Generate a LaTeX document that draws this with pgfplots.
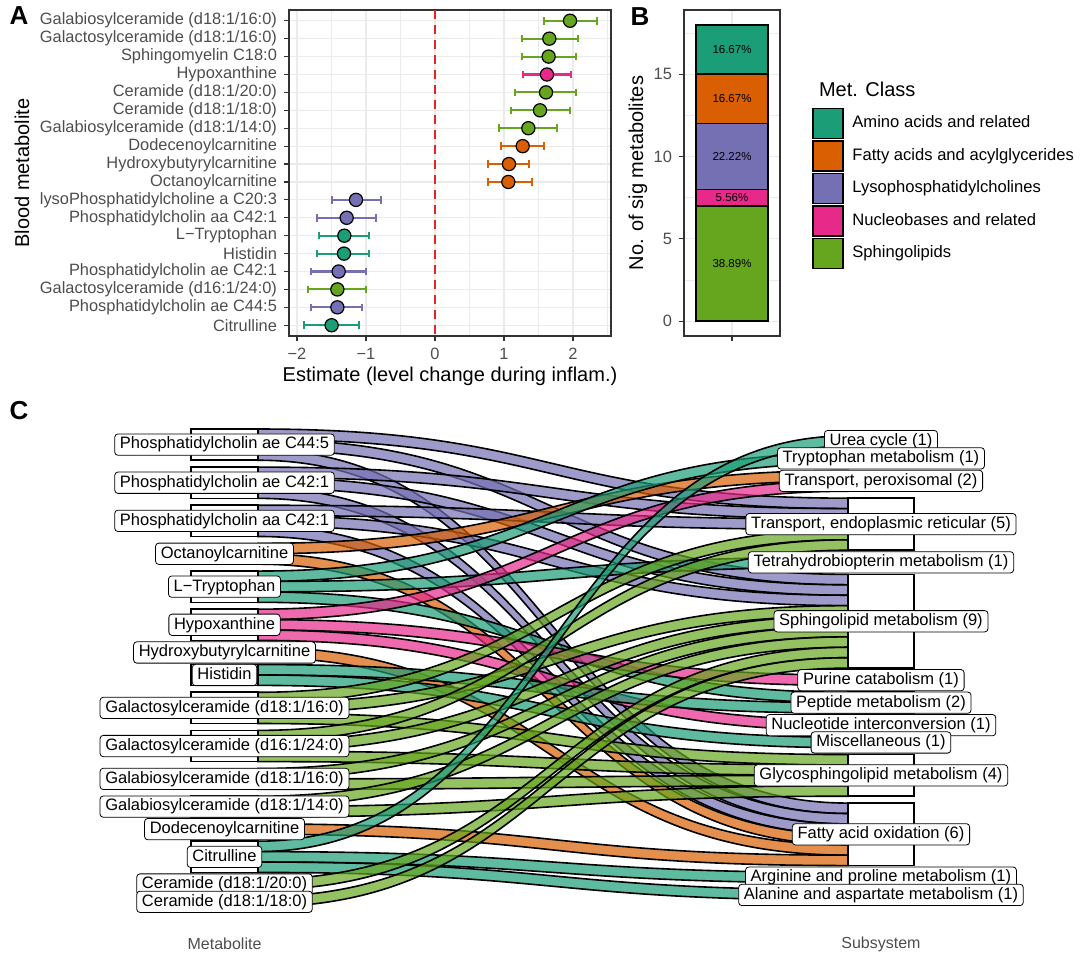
\documentclass[border=0pt]{standalone}
\usepackage{fontspec}
\setmainfont{Liberation Sans}
\usepackage{pgfplots}
\usepackage{pgfplotstable}
\pgfplotsset{compat=1.18}

\definecolor{amino}{RGB}{27,158,119}
\definecolor{fatty}{RGB}{217,95,2}
\definecolor{lyso}{RGB}{117,112,179}
\definecolor{nucleo}{RGB}{231,41,138}
\definecolor{sphingo}{RGB}{102,166,30}
\definecolor{grid92}{RGB}{235,235,235}
\definecolor{grey20}{RGB}{51,51,51}
\definecolor{grey30}{RGB}{77,77,77}
\definecolor{zeroline}{RGB}{226,38,38}

% plot handler: first point, then (control, control, end) triples -> cubic Bezier
\makeatletter
\def\pgfplothandlerbezier{%
  \def\pgf@plotstreamstart{%
    \global\let\pgf@plotstreampoint=\bz@first
    \global\let\pgf@plotstreamspecial=\pgfutil@gobble
    \global\let\pgf@plotstreamnewdataset=\relax
    \global\let\pgf@plotstreamend=\relax}}
\def\bz@first#1{\pgfpathmoveto{#1}\global\let\pgf@plotstreampoint=\bz@one}
\def\bz@one#1{\pgf@process{#1}\xdef\bz@ax{\the\pgf@x}\xdef\bz@ay{\the\pgf@y}\global\let\pgf@plotstreampoint=\bz@two}
\def\bz@two#1{\pgf@process{#1}\xdef\bz@bx{\the\pgf@x}\xdef\bz@by{\the\pgf@y}\global\let\pgf@plotstreampoint=\bz@three}
\def\bz@three#1{\pgfpathcurveto{\pgfqpoint{\bz@ax}{\bz@ay}}{\pgfqpoint{\bz@bx}{\bz@by}}{#1}\global\let\pgf@plotstreampoint=\bz@one}
\tikzset{bezier/.code={\let\tikz@plot@handler=\pgfplothandlerbezier}}
\makeatother

\newcommand\tickfont{\fontsize{8.2}{9}\selectfont}
\newcommand\titlefont{\fontsize{10}{12}\selectfont}

% ---- panel A: estimates (row est lo hi)
\pgfplotstableread{
row est lo hi
1 1.957 1.585 2.344
2 1.657 1.256 2.077
3 1.647 1.256 2.039
5 1.609 1.164 2.043
6 1.522 1.097 1.957
7 1.353 0.932 1.763
16 -1.415 -1.845 -1.000
}\Asph
\pgfplotstableread{
row est lo hi
4 1.623 1.275 1.966
}\Anuc
\pgfplotstableread{
row est lo hi
8 1.271 0.957 1.584
9 1.072 0.773 1.367
10 1.063 0.768 1.401
}\Afat
\pgfplotstableread{
row est lo hi
11 -1.145 -1.498 -0.783
12 -1.280 -1.715 -0.860
15 -1.396 -1.792 -1.005
17 -1.415 -1.792 -1.058
}\Alyso
\pgfplotstableread{
row est lo hi
13 -1.314 -1.676 -0.961
14 -1.319 -1.715 -0.952
18 -1.498 -1.903 -1.101
}\Aami

% ---- panel C: flows (slot centre on left, slot centre on right, class)
\pgfplotstableread{
yl yr col
0.5 7.14 lyso
1.5 14.46 lyso
2.5 36.42 lyso
4.16 8.14 lyso
5.16 15.46 lyso
6.16 37.42 lyso
7.82 9.14 lyso
8.82 16.46 lyso
9.82 38.42 lyso
11.48 4.48 fatty
12.48 39.42 fatty
14.14 2.82 amino
15.14 12.80 amino
16.14 25.78 amino
17.80 5.48 nucleo
18.80 24.12 nucleo
19.80 28.44 nucleo
21.46 40.42 fatty
23.12 26.78 amino
24.12 30.10 amino
25.78 10.14 sphingo
26.78 17.46 sphingo
27.78 31.76 sphingo
29.44 11.14 sphingo
30.44 18.46 sphingo
31.44 32.76 sphingo
33.10 19.46 sphingo
34.10 33.76 sphingo
35.76 20.46 sphingo
36.76 34.76 sphingo
38.42 41.42 fatty
40.08 1.16 amino
41.08 43.08 amino
42.08 44.74 amino
43.74 21.46 sphingo
45.40 22.46 sphingo
}\flows

% strata boxes
\pgfplotstableread{
x0 x1 y0 y1
-0.1136 0 0 3
-0.1136 0 3.66 6.66
-0.1136 0 7.32 10.32
-0.1136 0 10.98 12.98
-0.1136 0 13.64 16.64
-0.1136 0 17.30 20.30
-0.1136 0 20.96 21.96
-0.1136 0 22.62 24.62
-0.1136 0 25.28 28.28
-0.1136 0 28.94 31.94
-0.1136 0 32.60 34.60
-0.1136 0 35.26 37.26
-0.1136 0 37.92 38.92
-0.1136 0 39.58 42.58
-0.1136 0 43.24 44.24
-0.1136 0 44.90 45.90
1 1.1119 0.66 1.66
1 1.1119 2.32 3.32
1 1.1119 3.98 5.98
1 1.1119 6.64 11.64
1 1.1119 12.30 13.30
1 1.1119 13.96 22.96
1 1.1119 23.62 24.62
1 1.1119 25.28 27.28
1 1.1119 27.94 28.94
1 1.1119 29.60 30.60
1 1.1119 31.26 35.26
1 1.1119 35.92 41.92
1 1.1119 42.58 43.58
1 1.1119 44.24 45.24
}\strata

\pgfplotsset{
  ggbw/.style={
    scale only axis,
    axis line style={grey20, line width=0.75pt},
    tick align=outside, tick pos=left,
    major tick length=2.5pt,
    tick style={grey20, line width=0.6pt},
    minor tick length=0pt,
    tick label style={font=\tickfont, text=grey30},
    /pgf/number format/assume math mode=true,
    label style={font=\titlefont},
    major grid style={grid92, line width=0.6pt},
    minor grid style={grid92, line width=0.3pt},
  },
  ebar/.style={only marks, mark=none, error bars/.cd, x dir=both, x explicit,
    error mark=|,
    error bar style={#1, line width=1.05pt},
    error mark options={#1, line width=1.05pt, mark size=1.9pt}},
  dot/.style={only marks, mark=*, mark size=3.3pt,
    mark options={fill=#1, draw=black, line width=0.6pt}},
}
\tikzset{lab/.style={draw=black, line width=0.4pt, fill=white, rounded corners=1.6pt,
  inner xsep=2.6pt, inner ysep=1.4pt, text height=6.1pt, text depth=1.75pt,
  font=\fontsize{8.25}{9}\selectfont},
  pct/.style={font=\fontsize{5.75}{6}\selectfont}}

\begin{document}
\begin{tikzpicture}
\useasboundingbox (0,0) rectangle (540pt,-481.5pt);

% ================= A
\begin{axis}[ggbw,
  at={(144.5pt,-5pt)}, anchor=north west, width=161pt, height=163pt,
  xmin=-2.116, xmax=2.551, ymin=0.4, ymax=18.6, y dir=reverse,
  xtick={-2,-1,0,1,2}, xticklabels={−2,−1,0,1,2},
  minor xtick={-1.5,-0.5,0.5,1.5,2.5},
  ytick={1,...,18},
  yticklabels={Galabiosylceramide (d18:1/16:0),Galactosylceramide (d18:1/16:0),Sphingomyelin C18:0,Hypoxanthine,Ceramide (d18:1/20:0),Ceramide (d18:1/18:0),Galabiosylceramide (d18:1/14:0),Dodecenoylcarnitine,Hydroxybutyrylcarnitine,Octanoylcarnitine,lysoPhosphatidylcholine a C20:3,Phosphatidylcholin aa C42:1,L−Tryptophan,Histidin,Phosphatidylcholin ae C42:1,Galactosylceramide (d16:1/24:0),Phosphatidylcholin ae C44:5,Citrulline},
  xmajorgrids, xminorgrids, ymajorgrids,
  xlabel={Estimate (level change during inflam.)},
  ylabel={Blood metabolite},
  xlabel style={at={(axis description cs:0.5,-0.1227)}, anchor=center},
  ylabel style={at={(axis description cs:-0.829,0.5)}, anchor=center},
]
\addplot[zeroline, line width=0.9pt, dash pattern=on 4.5pt off 3pt] coordinates {(0,0.4) (0,18.6)};
\addplot[ebar=sphingo] table[x=est, y=row, x error plus expr=\thisrow{hi}-\thisrow{est}, x error minus expr=\thisrow{est}-\thisrow{lo}] {\Asph};
\addplot[ebar=nucleo] table[x=est, y=row, x error plus expr=\thisrow{hi}-\thisrow{est}, x error minus expr=\thisrow{est}-\thisrow{lo}] {\Anuc};
\addplot[ebar=fatty] table[x=est, y=row, x error plus expr=\thisrow{hi}-\thisrow{est}, x error minus expr=\thisrow{est}-\thisrow{lo}] {\Afat};
\addplot[ebar=lyso] table[x=est, y=row, x error plus expr=\thisrow{hi}-\thisrow{est}, x error minus expr=\thisrow{est}-\thisrow{lo}] {\Alyso};
\addplot[ebar=amino] table[x=est, y=row, x error plus expr=\thisrow{hi}-\thisrow{est}, x error minus expr=\thisrow{est}-\thisrow{lo}] {\Aami};
\addplot[dot=sphingo] table[x=est, y=row] {\Asph};
\addplot[dot=nucleo] table[x=est, y=row] {\Anuc};
\addplot[dot=fatty] table[x=est, y=row] {\Afat};
\addplot[dot=lyso] table[x=est, y=row] {\Alyso};
\addplot[dot=amino] table[x=est, y=row] {\Aami};
\end{axis}

% ================= B
\begin{axis}[ggbw,
  at={(342pt,-5pt)}, anchor=north west, width=48pt, height=163pt,
  ybar stacked, bar width=36pt,
  xmin=0.4, xmax=1.6, ymin=-0.9, ymax=18.9,
  xtick={1}, xticklabels={\strut},
  ytick={0,5,10,15}, minor ytick={2.5,7.5,12.5,17.5},
  xmajorgrids, ymajorgrids, yminorgrids,
  ylabel={No. of sig metabolites},
  ylabel style={at={(axis description cs:-0.479,0.5)}, anchor=center},
  legend image code/.code={\draw[#1, line width=0.8pt] (0pt,-7.5pt) rectangle (15pt,7.5pt);},
  reverse legend,
  legend style={at={(axis description cs:1.3333,0.7017)}, anchor=north west,
    draw=none, fill=none, inner sep=0pt, row sep=0.45pt,
    /tikz/column sep=4pt,
    nodes={inner sep=0.2pt},
    font=\fontsize{8.3}{10}\selectfont},
  legend cell align=left,
  extra description/.code={
    \node[pct] at (axis cs:1,3.5) {38.89\%};
    \node[pct] at (axis cs:1,7.5) {5.56\%};
    \node[pct] at (axis cs:1,10) {22.22\%};
    \node[pct] at (axis cs:1,13.5) {16.67\%};
    \node[pct] at (axis cs:1,16.5) {16.67\%};
  },
]
\addplot[fill=sphingo, draw=black, line width=0.8pt] coordinates {(1,7)};
\addplot[fill=nucleo, draw=black, line width=0.8pt] coordinates {(1,1)};
\addplot[fill=lyso, draw=black, line width=0.8pt] coordinates {(1,4)};
\addplot[fill=fatty, draw=black, line width=0.8pt] coordinates {(1,3)};
\addplot[fill=amino, draw=black, line width=0.8pt] coordinates {(1,3)};
\legend{Sphingolipids,Nucleobases and related,Lysophosphatidylcholines,Fatty acids and acylglycerides,Amino acids and related}
\end{axis}
\node[anchor=west, font=\titlefont] at (406pt,-44.5pt) {Met. Class};

% ================= C
\begin{axis}[
  at={(95.5pt,-214.5pt)}, anchor=north west, scale only axis, width=361.5pt, height=239pt,
  xmin=-0.1136, xmax=1.1119, ymin=0, ymax=45.9, y dir=reverse, clip=false,
  axis line style={draw=none}, tick style={draw=none}, major tick length=0pt,
  ytick=\empty, xtick={-0.0568,1.0559}, xticklabels={Metabolite,Subsystem},
  xticklabel style={font=\fontsize{8}{9}\selectfont, text=grey30, anchor=center, yshift=-18.5pt},
]
\pgfplotstablegetrowsof{\flows}
\pgfmathtruncatemacro\nflows{\pgfplotsretval-1}
\pgfplotsforeachungrouped \i in {0,...,\nflows}{%
  \pgfplotstablegetelem{\i}{yl}\of\flows \let\fa\pgfplotsretval
  \pgfplotstablegetelem{\i}{yr}\of\flows \let\fb\pgfplotsretval
  \pgfplotstablegetelem{\i}{col}\of\flows \let\fc\pgfplotsretval
  \pgfmathsetmacro\fLt{\fa-0.5}\pgfmathsetmacro\fLb{\fa+0.5}%
  \pgfmathsetmacro\fRt{\fb-0.5}\pgfmathsetmacro\fRb{\fb+0.5}%
  \edef\doflow{\noexpand\addplot[bezier, fill=\fc, fill opacity=0.7, draw=black, line width=0.8pt]
    coordinates {(0,\fLt) (0.5,\fLt) (0.5,\fRt) (1,\fRt) (1,\fRt) (1,\fRb) (1,\fRb) (0.5,\fRb) (0.5,\fLb) (0,\fLb)} -- cycle;}%
  \doflow
}
\pgfplotstablegetrowsof{\strata}
\pgfmathtruncatemacro\nstrata{\pgfplotsretval-1}
\pgfplotsforeachungrouped \i in {0,...,\nstrata}{%
  \pgfplotstablegetelem{\i}{x0}\of\strata \let\sa\pgfplotsretval
  \pgfplotstablegetelem{\i}{x1}\of\strata \let\sb\pgfplotsretval
  \pgfplotstablegetelem{\i}{y0}\of\strata \let\sc\pgfplotsretval
  \pgfplotstablegetelem{\i}{y1}\of\strata \let\sd\pgfplotsretval
  \edef\dostratum{\noexpand\addplot[fill=white, draw=black, line width=0.8pt]
    coordinates {(\sa,\sc) (\sb,\sc) (\sb,\sd) (\sa,\sd)} -- cycle;}%
  \dostratum
}
% stratum labels
\node[lab] at (axis cs:-0.0568,1.5) {Phosphatidylcholin ae C44:5};
\node[lab] at (axis cs:-0.0568,5.16) {Phosphatidylcholin ae C42:1};
\node[lab] at (axis cs:-0.0568,8.82) {Phosphatidylcholin aa C42:1};
\node[lab] at (axis cs:-0.0568,11.98) {Octanoylcarnitine};
\node[lab] at (axis cs:-0.0568,15.14) {L−Tryptophan};
\node[lab] at (axis cs:-0.0568,18.80) {Hypoxanthine};
\node[lab] at (axis cs:-0.0568,21.46) {Hydroxybutyrylcarnitine};
\node[lab] at (axis cs:-0.0568,23.62) {Histidin};
\node[lab] at (axis cs:-0.0568,26.78) {Galactosylceramide (d18:1/16:0)};
\node[lab] at (axis cs:-0.0568,30.44) {Galactosylceramide (d16:1/24:0)};
\node[lab] at (axis cs:-0.0568,33.60) {Galabiosylceramide (d18:1/16:0)};
\node[lab] at (axis cs:-0.0568,36.26) {Galabiosylceramide (d18:1/14:0)};
\node[lab] at (axis cs:-0.0568,38.42) {Dodecenoylcarnitine};
\node[lab] at (axis cs:-0.0568,41.08) {Citrulline};
\node[lab] at (axis cs:-0.0568,43.74) {Ceramide (d18:1/20:0)};
\node[lab] at (axis cs:-0.0568,45.40) {Ceramide (d18:1/18:0)};
\node[lab] at (axis cs:1.0559,1.16) {Urea cycle (1)};
\node[lab] at (axis cs:1.0559,2.82) {Tryptophan metabolism (1)};
\node[lab] at (axis cs:1.0559,4.98) {Transport, peroxisomal (2)};
\node[lab] at (axis cs:1.0559,9.14) {Transport, endoplasmic reticular (5)};
\node[lab] at (axis cs:1.0559,12.80) {Tetrahydrobiopterin metabolism (1)};
\node[lab] at (axis cs:1.0559,18.46) {Sphingolipid metabolism (9)};
\node[lab] at (axis cs:1.0559,24.12) {Purine catabolism (1)};
\node[lab] at (axis cs:1.0559,26.28) {Peptide metabolism (2)};
\node[lab] at (axis cs:1.0559,28.44) {Nucleotide interconversion (1)};
\node[lab] at (axis cs:1.0559,30.10) {Miscellaneous (1)};
\node[lab] at (axis cs:1.0559,33.26) {Glycosphingolipid metabolism (4)};
\node[lab] at (axis cs:1.0559,38.92) {Fatty acid oxidation (6)};
\node[lab] at (axis cs:1.0559,43.08) {Arginine and proline metabolism (1)};
\node[lab] at (axis cs:1.0559,44.74) {Alanine and aspartate metabolism (1)};
\end{axis}

% panel tags
\node[font=\bfseries\fontsize{13}{14}\selectfont] at (9.5pt,-8pt) {A};
\node[font=\bfseries\fontsize{13}{14}\selectfont] at (320pt,-8.5pt) {B};
\node[font=\bfseries\fontsize{13}{14}\selectfont] at (9.5pt,-205.5pt) {C};
\end{tikzpicture}
\end{document}
